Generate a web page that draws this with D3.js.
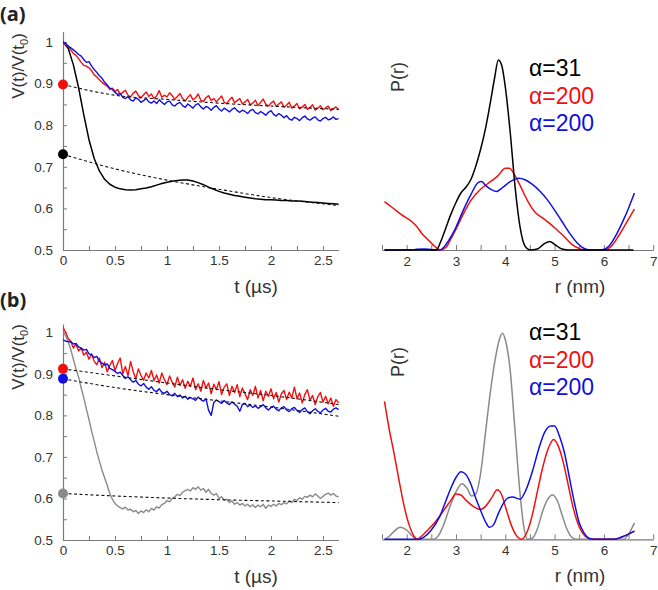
<!DOCTYPE html>
<html><head><meta charset="utf-8">
<script src="https://cdnjs.cloudflare.com/ajax/libs/d3/7.8.5/d3.min.js"></script>
<style>
body{margin:0;background:#fff;}
svg{display:block;font-family:"Liberation Sans",Arial,sans-serif;}
</style></head>
<body>
<svg id="c" width="658" height="590"></svg>
<script>
// ---------- DATA ----------
const tStep = 0.025; // sampling step of the noisy traces (µs)
const tickLabelsT = [0, 0.5, 1, 1.5, 2, 2.5];
const tickLabelsV = [0.5, 0.6, 0.7, 0.8, 0.9, 1];
const minorTicksT = [0,0.25,0.5,0.75,1,1.25,1.5,1.75,2,2.25,2.5];
const minorTicksV = [0.5,0.55,0.6,0.65,0.7,0.75,0.8,0.85,0.9,0.95,1];
const tickLabelsR = [2, 3, 4, 5, 6, 7];
const minorTicksR = [1.5,2,2.5,3,3.5,4,4.5,5,5.5,6,6.5,7];
const legendLabels = ["α=31", "α=200", "α=200"];

// panel (a) time traces
const redA = [1.000,0.993,0.990,0.981,0.972,0.968,0.960,0.951,0.944,0.942,0.938,0.931,0.921,0.916,0.909,0.903,0.898,0.894,0.886,0.889,
0.881,0.886,0.874,0.879,0.884,0.872,0.868,0.877,0.882,0.871,0.866,0.873,0.880,0.869,0.875,0.864,0.870,0.883,0.867,0.872,
0.868,0.878,0.871,0.862,0.869,0.876,0.864,0.858,0.867,0.873,0.861,0.866,0.875,0.860,0.857,0.866,0.871,0.859,0.864,0.856,
0.863,0.870,0.855,0.852,0.861,0.867,0.854,0.859,0.864,0.851,0.856,0.862,0.849,0.853,0.860,0.847,0.855,0.863,0.850,0.846,
0.853,0.858,0.845,0.851,0.856,0.843,0.848,0.855,0.841,0.846,0.852,0.839,0.844,0.850,0.838,0.843,0.849,0.836,0.841,0.847,
0.837,0.842,0.846,0.835,0.840,0.844,0.837];
const blueA = [1.000,0.997,0.990,0.986,0.981,0.976,0.970,0.966,0.958,0.951,0.953,0.942,0.934,0.927,0.919,0.913,0.903,0.897,0.889,0.886,
0.879,0.874,0.876,0.867,0.864,0.869,0.861,0.858,0.866,0.862,0.855,0.859,0.864,0.856,0.853,0.858,0.852,0.861,0.855,0.850,
0.856,0.858,0.849,0.846,0.852,0.855,0.847,0.843,0.851,0.846,0.841,0.849,0.852,0.844,0.839,0.845,0.842,0.836,0.843,0.847,
0.839,0.834,0.841,0.837,0.832,0.838,0.842,0.835,0.831,0.836,0.833,0.828,0.835,0.838,0.830,0.827,0.833,0.829,0.824,0.831,
0.835,0.826,0.822,0.828,0.824,0.818,0.823,0.815,0.812,0.819,0.816,0.811,0.818,0.822,0.815,0.812,0.817,0.820,0.813,0.810,
0.816,0.819,0.813,0.815,0.820,0.814,0.816];
const blackT = [0,0.05,0.1,0.15,0.2,0.25,0.3,0.35,0.4,0.45,0.5,0.55,0.6,0.65,0.7,0.75,0.8,0.85,0.9,0.95,1.0,1.05,1.1,1.15,1.2,1.25,1.3,1.35,1.4,1.45,1.5,1.55,1.6,1.65,1.7,1.75,1.8,1.85,1.9,1.95,2.0,2.05,2.1,2.15,2.2,2.25,2.3,2.35,2.4,2.45,2.5,2.55,2.6,2.65];
const blackA = [1.0,0.985,0.945,0.89,0.825,0.765,0.72,0.69,0.67,0.658,0.651,0.647,0.645,0.644,0.645,0.647,0.649,0.652,0.656,0.66,0.663,0.665,0.667,0.668,0.668,0.666,0.662,0.657,0.651,0.646,0.641,0.637,0.634,0.631,0.629,0.627,0.625,0.623,0.622,0.621,0.621,0.620,0.619,0.619,0.618,0.618,0.617,0.616,0.615,0.614,0.613,0.612,0.611,0.610];
const fitT = [0, 0.5, 1, 1.5, 2, 2.65];
const fitRedA = [0.898, 0.872, 0.862, 0.853, 0.846, 0.838];
const fitBlackA = [0.73, 0.695, 0.668, 0.646, 0.626, 0.607];

// panel (b) time traces
const redB = [1.012,1.000,0.985,0.978,0.962,0.972,0.955,0.962,0.945,0.952,0.935,0.948,0.930,0.922,0.938,0.915,0.928,0.905,0.920,0.932,
0.908,0.925,0.938,0.900,0.918,0.895,0.930,0.905,0.888,0.912,0.896,0.885,0.902,0.890,0.908,0.884,0.897,0.878,0.902,0.886,
0.874,0.895,0.880,0.868,0.892,0.872,0.886,0.865,0.882,0.870,0.890,0.862,0.876,0.858,0.884,0.866,0.878,0.852,0.875,0.862,
0.881,0.850,0.868,0.876,0.848,0.870,0.855,0.874,0.845,0.866,0.852,0.838,0.862,0.848,0.870,0.842,0.860,0.835,0.858,0.846,
0.864,0.840,0.855,0.832,0.852,0.860,0.838,0.856,0.842,0.868,0.840,0.854,0.830,0.850,0.862,0.836,0.848,0.826,0.845,0.855,
0.832,0.846,0.828,0.842,0.822,0.838,0.830];
const blueB = [0.982,0.979,0.977,0.978,0.972,0.973,0.965,0.962,0.957,0.959,0.948,0.946,0.939,0.942,0.930,0.926,0.921,0.924,0.913,0.910,
0.906,0.901,0.904,0.896,0.889,0.893,0.886,0.880,0.884,0.875,0.871,0.877,0.868,0.863,0.869,0.860,0.857,0.864,0.856,0.853,
0.858,0.850,0.847,0.853,0.845,0.849,0.842,0.846,0.839,0.843,0.840,0.836,0.844,0.838,0.834,0.840,0.812,0.800,0.831,0.837,
0.833,0.829,0.836,0.830,0.826,0.833,0.827,0.822,0.810,0.826,0.829,0.821,0.825,0.819,0.823,0.817,0.821,0.826,0.818,0.813,
0.819,0.822,0.815,0.811,0.818,0.821,0.813,0.809,0.816,0.819,0.812,0.807,0.814,0.818,0.809,0.804,0.811,0.816,0.810,0.806,
0.813,0.817,0.810,0.808,0.815,0.818,0.814];
const grayB = [1.0,0.992,0.978,0.958,0.935,0.912,0.892,0.866,0.842,0.815,0.790,0.762,0.738,0.712,0.690,0.668,0.650,0.632,0.612,0.598,
0.588,0.582,0.578,0.575,0.579,0.572,0.574,0.568,0.571,0.564,0.570,0.566,0.573,0.568,0.576,0.572,0.580,0.577,0.585,0.588,
0.595,0.592,0.600,0.604,0.610,0.607,0.615,0.619,0.622,0.618,0.626,0.622,0.628,0.620,0.624,0.615,0.622,0.612,0.608,0.612,
0.600,0.604,0.596,0.598,0.590,0.594,0.586,0.590,0.584,0.588,0.582,0.586,0.580,0.585,0.578,0.584,0.580,0.586,0.576,0.584,
0.581,0.586,0.582,0.588,0.585,0.590,0.587,0.594,0.590,0.598,0.595,0.602,0.598,0.605,0.603,0.608,0.604,0.611,0.606,0.600,
0.605,0.610,0.613,0.608,0.612,0.606,0.604];
const fitRedB = [0.912, 0.895, 0.878, 0.862, 0.848, 0.826];
const fitBlueB = [0.888, 0.867, 0.850, 0.835, 0.820, 0.798];
const fitGrayB = [0.612, 0.606, 0.601, 0.597, 0.594, 0.590];

// distance distributions P(r): [r (nm), P]
const pBlackA = [[1.55,0],[2.6,0],[2.7,0.05],[2.8,0.12],[2.9,0.19],[3.0,0.25],[3.1,0.3],[3.2,0.33],[3.3,0.37],[3.4,0.44],[3.5,0.53],[3.6,0.64],[3.7,0.78],[3.78,0.9],[3.86,1.0],[3.93,0.97],[4.0,0.86],[4.1,0.62],[4.2,0.33],[4.3,0.12],[4.4,0.02],[4.5,0],[4.65,0.005],[4.8,0.035],[4.9,0.045],[5.0,0.03],[5.15,0.005],[5.3,0],[6.6,0]];
const pRedA = [[1.55,0.255],[1.7,0.225],[1.9,0.185],[2.1,0.15],[2.2,0.125],[2.3,0.09],[2.45,0.05],[2.6,0.012],[2.68,0],[2.8,0.015],[2.9,0.06],[3.0,0.11],[3.15,0.19],[3.3,0.26],[3.5,0.32],[3.7,0.36],[3.85,0.39],[4.0,0.43],[4.08,0.43],[4.2,0.39],[4.3,0.34],[4.45,0.26],[4.6,0.2],[4.75,0.17],[4.9,0.14],[5.05,0.105],[5.2,0.07],[5.35,0.03],[5.5,0.008],[5.6,0],[6.0,0],[6.15,0.02],[6.3,0.075],[6.45,0.14],[6.62,0.215]];
const pBlueA = [[1.55,0],[2.1,0],[2.2,0.004],[2.35,0.005],[2.5,0.002],[2.67,0],[2.8,0.03],[2.9,0.07],[3.0,0.12],[3.15,0.21],[3.3,0.29],[3.45,0.355],[3.52,0.36],[3.6,0.34],[3.7,0.32],[3.82,0.308],[3.95,0.33],[4.1,0.36],[4.28,0.378],[4.4,0.37],[4.55,0.345],[4.7,0.31],[4.85,0.265],[5.0,0.21],[5.15,0.15],[5.3,0.09],[5.45,0.04],[5.6,0.008],[5.7,0],[5.95,0],[6.1,0.02],[6.25,0.08],[6.4,0.16],[6.5,0.22],[6.62,0.3]];
const pGrayB = [[1.55,0],[1.65,0.015],[1.75,0.04],[1.87,0.058],[2.0,0.045],[2.1,0.02],[2.2,0],[2.55,0],[2.65,0.02],[2.75,0.07],[2.88,0.16],[3.0,0.23],[3.12,0.27],[3.22,0.25],[3.32,0.21],[3.4,0.22],[3.5,0.32],[3.6,0.52],[3.7,0.72],[3.8,0.88],[3.88,0.97],[3.94,1.0],[4.0,0.97],[4.1,0.82],[4.2,0.52],[4.3,0.22],[4.37,0.07],[4.45,0],[4.55,0.005],[4.65,0.05],[4.75,0.13],[4.85,0.19],[4.96,0.215],[5.05,0.19],[5.15,0.12],[5.25,0.05],[5.35,0.01],[5.45,0],[6.4,0],[6.5,0.025],[6.62,0.08]];
const pRedB = [[1.55,0.67],[1.65,0.53],[1.75,0.41],[1.85,0.28],[1.95,0.16],[2.05,0.07],[2.15,0.015],[2.22,0],[2.3,0.015],[2.45,0.05],[2.6,0.09],[2.75,0.14],[2.9,0.19],[3.0,0.22],[3.1,0.215],[3.2,0.19],[3.35,0.16],[3.5,0.145],[3.6,0.16],[3.72,0.2],[3.84,0.24],[3.92,0.22],[4.02,0.145],[4.12,0.07],[4.22,0.02],[4.33,0],[4.45,0.04],[4.55,0.12],[4.65,0.23],[4.75,0.34],[4.87,0.44],[4.98,0.485],[5.08,0.45],[5.18,0.37],[5.28,0.26],[5.38,0.15],[5.5,0.06],[5.62,0.015],[5.75,0],[6.2,0],[6.35,0.01],[6.5,0.025],[6.62,0.04]];
const pBlueB = [[1.55,0],[2.25,0],[2.35,0.01],[2.5,0.045],[2.67,0.11],[2.8,0.19],[2.9,0.25],[3.0,0.3],[3.1,0.328],[3.2,0.315],[3.3,0.27],[3.4,0.2],[3.5,0.14],[3.6,0.085],[3.68,0.058],[3.76,0.07],[3.85,0.12],[3.95,0.17],[4.05,0.2],[4.15,0.205],[4.3,0.195],[4.42,0.24],[4.55,0.33],[4.68,0.44],[4.8,0.52],[4.92,0.55],[5.0,0.55],[5.1,0.5],[5.2,0.42],[5.3,0.3],[5.4,0.18],[5.5,0.08],[5.6,0.03],[5.7,0.005],[5.8,0],[6.2,0],[6.35,0.01],[6.5,0.025],[6.62,0.04]];

// ---------- DRAW ----------
const RED = "#f01010", BLUE = "#1010e0", GRAY = "#8a8a8a", AXIS = "#7a7a7a", TXT = "#333";
const svg = d3.select("#c");

function series(vals){ return vals.map((v,i)=>[i*tStep, v]); }
function zip(ts, vs){ return ts.map((t,i)=>[t, vs[i]]); }

function leftPanel(cfg){
  const x = d3.scaleLinear().domain([0, 2.65]).range([63, 338.6]);
  const y = d3.scaleLinear().domain([0.5, 1]).range([cfg.y05, cfg.y1]);
  const g = svg.append("g");
  const fmt = d => (d===1 ? "1" : (d===0 ? "0" : String(d)));
  const ax = d3.axisBottom(x).tickValues(minorTicksT).tickSizeInner(-4).tickSizeOuter(0).tickPadding(5)
    .tickFormat(d => tickLabelsT.includes(d) ? fmt(d) : "");
  const ay = d3.axisLeft(y.copy().domain([0.5, cfg.ytop]).range([cfg.y05, y(cfg.ytop)])).tickValues(minorTicksV).tickSizeInner(-4).tickSizeOuter(0).tickPadding(10)
    .tickFormat(d => tickLabelsV.some(v=>Math.abs(v-d)<1e-9) ? (Math.abs(d-1)<1e-9?"1":d.toFixed(1)) : "");
  [[ax, `translate(0,${cfg.y05})`],[ay, `translate(63,0)`]].forEach(([a,tr])=>{
    const gg = g.append("g").attr("transform", tr).call(a);
    gg.select(".domain").attr("stroke", AXIS).attr("stroke-width", 1.2);
    gg.selectAll(".tick line").attr("stroke", AXIS);
    gg.selectAll("text").attr("fill", TXT).style("font-size","13.5px").style("font-family","'Liberation Sans',Arial,sans-serif");
  });
  const line = d3.line().x(d=>x(d[0])).y(d=>y(d[1]));
  const clipId = "clip"+cfg.name;
  svg.append("clipPath").attr("id", clipId).append("rect").attr("x",63).attr("y",y(1.05)).attr("width",280).attr("height",cfg.y05-y(1.05));
  const pg = g.append("g").attr("clip-path",`url(#${clipId})`);
  cfg.traces.forEach(tr=>{
    pg.append("path").datum(tr.data).attr("d", line).attr("fill","none").attr("stroke", tr.color).attr("stroke-width", tr.w||1.4).attr("stroke-linejoin","round");
  });
  const curved = d3.line().x(d=>x(d[0])).y(d=>y(d[1])).curve(d3.curveMonotoneX);
  cfg.fits.forEach(f=>{
    pg.append("path").datum(f.data).attr("d", curved).attr("fill","none").attr("stroke","#111").attr("stroke-width",1.1).attr("stroke-dasharray","3,2.5");
  });
  cfg.fits.forEach(f=>{
    g.append("circle").attr("cx", x(0)).attr("cy", y(f.data[0][1])).attr("r", 5).attr("fill", f.dot);
  });
  const yl = g.append("text").attr("transform", `translate(24,${cfg.ylabY}) rotate(-90)`).attr("text-anchor","middle")
    .attr("fill", TXT).style("font-size","17px");
  yl.append("tspan").text("V(t)/V(t");
  yl.append("tspan").text("0").style("font-size","11px").attr("dy", 4);
  yl.append("tspan").text(")").attr("dy", -4);
  g.append("text").attr("x", 256).attr("y", cfg.y05 + 43).attr("text-anchor","middle").attr("fill",TXT).style("font-size","19px").text("t (µs)");
  g.append("text").attr("x", 0).attr("y", cfg.panelY).attr("fill","#222").style("font-family","'Open Sans','Noto Sans',sans-serif").style("font-weight","bold").style("font-size","20px").text(cfg.panel);
}

function rightPanel(cfg){
  const x = d3.scaleLinear().domain([1.5, 7]).range([382, 653.2]);
  const y = d3.scaleLinear().domain([0, 1]).range([cfg.y0, cfg.y1]);
  const g = svg.append("g");
  const ax = d3.axisBottom(x).tickValues(minorTicksR).tickSizeInner(-5).tickSizeOuter(0).tickPadding(6)
    .tickFormat(d => tickLabelsR.includes(d) ? String(d) : "");
  const gg = g.append("g").attr("transform", `translate(0,${cfg.y0})`).call(ax);
  gg.select(".domain").attr("stroke", AXIS).attr("stroke-width", 1.2);
  gg.selectAll(".tick line").attr("stroke", AXIS);
  gg.selectAll("text").attr("fill", TXT).style("font-size","13.5px");
  const line = d3.line().x(d=>x(d[0])).y(d=>y(d[1])).curve(d3.curveMonotoneX);
  cfg.curves.forEach(c=>{
    g.append("path").datum(c.data).attr("d", line).attr("fill","none").attr("stroke", c.color).attr("stroke-width",1.5);
  });
  g.append("text").attr("transform", `translate(404,${cfg.pY}) rotate(-90)`).attr("text-anchor","middle").attr("fill",TXT).style("font-size","18px").text("P(r)");
  const cols = [cfg.firstColor, RED, BLUE];
  legendLabels.forEach((l,i)=>{
    g.append("text").attr("x", 529).attr("y", cfg.legY + i*27.5).attr("fill", cols[i]).style("font-size","23px").text(l);
  });
  g.append("text").attr("x", 580).attr("y", cfg.y0 + 43).attr("text-anchor","middle").attr("fill",TXT).style("font-size","19px").text("r (nm)");
}

leftPanel({name:"a", y05:250, y1:42, ytop:1.025, ylabY:66, panel:"(a)", panelY:21,
  traces:[{data:zip(blackT, blackA), color:"#000", w:1.5},{data:series(redA), color:RED},{data:series(blueA), color:BLUE}],
  fits:[{data:zip(fitT, fitRedA), dot:"#f01010"},{data:zip(fitT, fitBlackA), dot:"#000"}]});
leftPanel({name:"b", y05:540, y1:332.3, ytop:1.02, ylabY:357, panel:"(b)", panelY:307,
  traces:[{data:series(grayB), color:GRAY},{data:series(redB), color:RED},{data:series(blueB), color:BLUE}],
  fits:[{data:zip(fitT, fitRedB), dot:"#f01010"},{data:zip(fitT, fitBlueB), dot:BLUE},{data:zip(fitT, fitGrayB), dot:GRAY}]});

rightPanel({y0:250, y1:60, pY:77, legY:76, firstColor:"#000",
  curves:[{data:pRedA, color:RED},{data:pBlueA, color:BLUE},{data:pBlackA, color:"#000"}]});
rightPanel({y0:539.3, y1:333.3, pY:362, legY:340, firstColor:"#000",
  curves:[{data:pGrayB, color:GRAY},{data:pRedB, color:RED},{data:pBlueB, color:BLUE}]});
</script>
</body></html>
